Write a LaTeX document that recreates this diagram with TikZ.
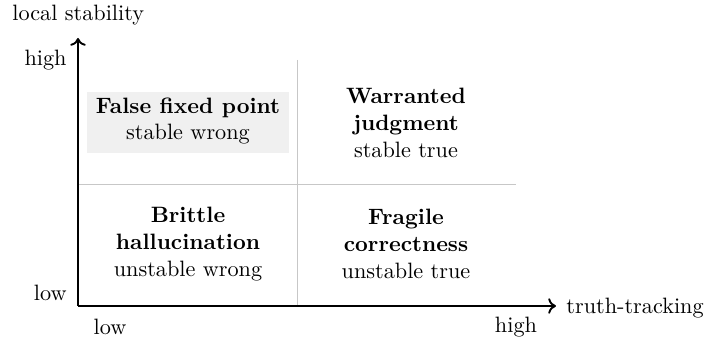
\documentclass[tikz,border=0pt]{standalone}
\usetikzlibrary{arrows.meta}
\begin{document}
\begin{tikzpicture}[x=0.45pt,y=-0.45pt,
  axis/.style={line width=0.85pt,-{To[length=3.5pt,width=7pt]}},
  gridline/.style={draw=black!22,line width=0.4pt},
  lab/.style={inner sep=0pt,font=\normalsize},
  quad/.style={align=center,inner sep=0pt,font=\normalsize},
  hilite/.style={fill=black!6,draw=none}]
\useasboundingbox (0,0) rectangle (709,338);
\coordinate (O) at (78,306);
\coordinate (ytop) at (78,38);
\coordinate (xend) at (556,306);
\coordinate (vgt) at (297,60);
\coordinate (vgb) at (297,306);
\coordinate (hgl) at (78,184);
\coordinate (hgr) at (516,184);
\fill[hilite] (87,92) rectangle (289,153);
\draw[gridline] (vgt) -- (vgb);
\draw[gridline] (hgl) -- (hgr);
\draw[axis] (O) -- (ytop);
\draw[axis] (O) -- (xend);
\node[lab,anchor=west] (ylab) at (12,15) {local stability};
\node[lab,anchor=east] (yhigh) at (67,60) {high};
\node[lab,anchor=east] (ylow) at (67,293) {low};
\node[lab] (xlow) at (110,327) {low};
\node[lab] (xhigh) at (516,327) {high};
\node[lab,anchor=west] (xlab) at (566,308) {truth-tracking};
\node[quad] (tl) at (188,121) {\textbf{False fixed point}\\stable wrong};
\node[quad] (tr) at (406,123) {\textbf{Warranted}\\\textbf{judgment}\\stable true};
\node[quad] (bl) at (188,244) {\textbf{Brittle}\\\textbf{hallucination}\\unstable wrong};
\node[quad] (br) at (406,244) {\textbf{Fragile}\\\textbf{correctness}\\unstable true};
\end{tikzpicture}
\end{document}
